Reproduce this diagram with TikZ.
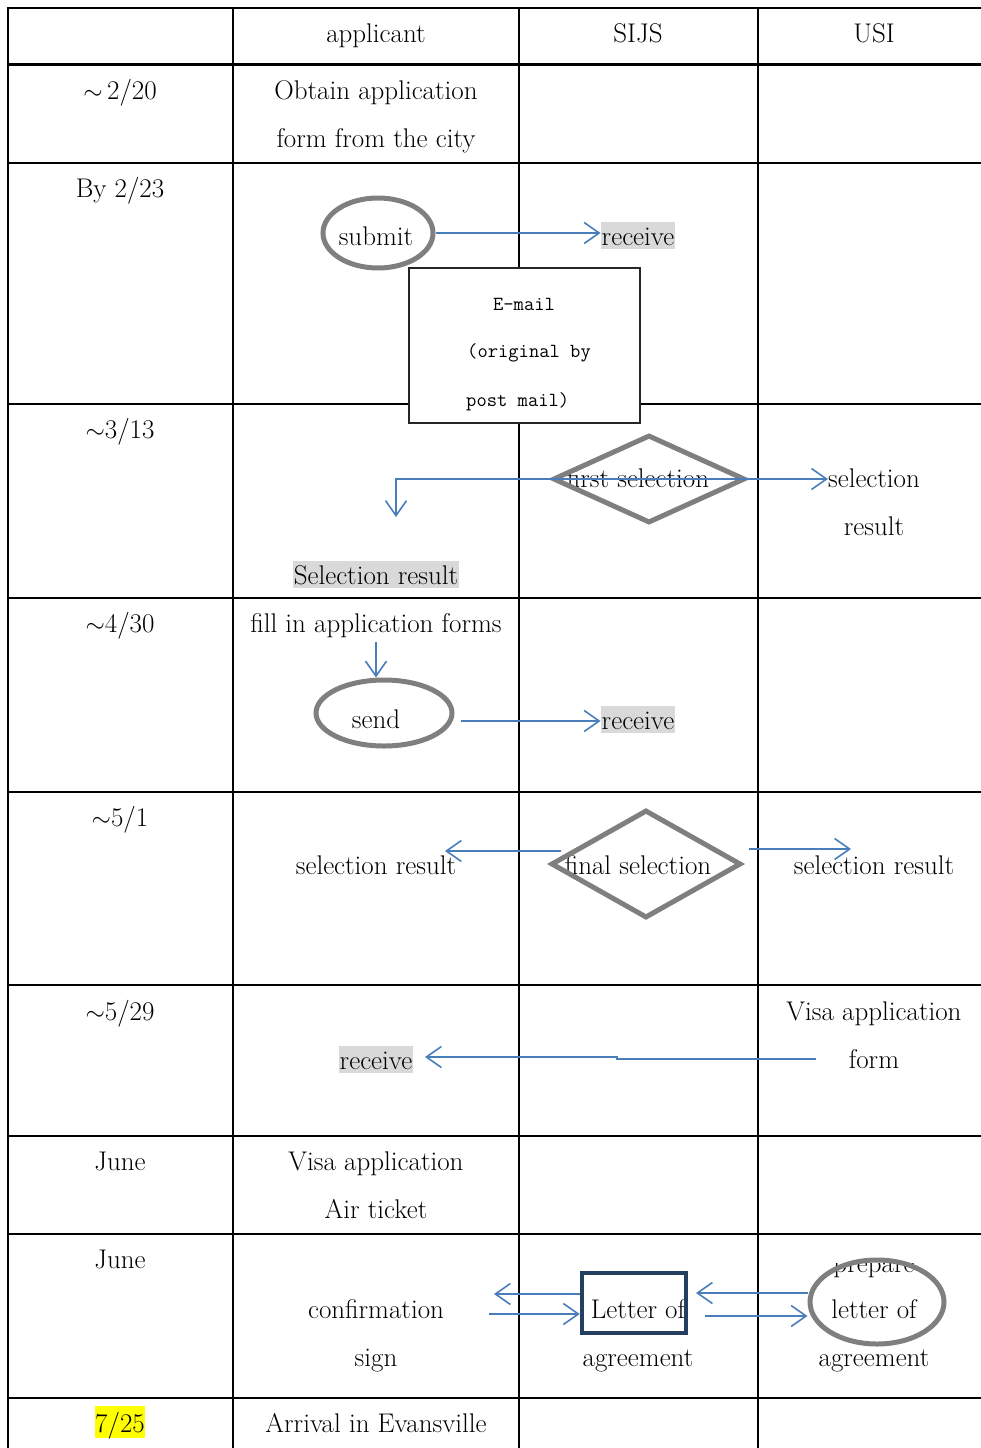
\documentclass[tikz,border=0pt]{standalone}
\usepackage{fontspec}
\usetikzlibrary{arrows.meta,shapes.geometric}
\definecolor{flowblue}{HTML}{4A7EBB}
\definecolor{shapegray}{HTML}{7F7F7F}
\definecolor{hlgray}{HTML}{D9D9D9}
\definecolor{hlyellow}{HTML}{FFFF00}
\definecolor{navybox}{HTML}{243F60}
\begin{document}
\begin{tikzpicture}[x=1pt,y=-1pt,
  gridline/.style={line width=2.4pt,line cap=rect},
  txt/.style={font=\fontsize{27}{31}\selectfont, anchor=base, inner sep=0pt},
  mono/.style={font=\ttfamily\fontsize{20}{23}\selectfont, anchor=base, inner sep=0pt},
  hl/.style={txt, fill=hlgray, inner xsep=1pt, inner ysep=1.5pt, text height=22pt, text depth=2pt},
  oval/.style={ellipse, draw=shapegray, line width=5pt, inner sep=0pt},
  dia/.style={diamond, draw=shapegray, line width=5pt, inner sep=0pt},
  flow/.style={draw=flowblue, line width=1.6pt, -{Straight Barb[length=15pt,width=21pt]}}]
\useasboundingbox (0,0) rectangle (980,1448);
% grid
\foreach \y in {8,64.5,163,404,598,792,985,1136,1234,1398}
  \draw[gridline] (8,\y) -- (982,\y);
\foreach \x in {8,233,519,758}
  \draw[gridline] (\x,8) -- (\x,1450);
% header
\node[txt] (hApp) at (376,42) {applicant};
\node[txt] (hSIJS) at (638,42) {SIJS};
\node[txt] (hUSI) at (874,42) {USI};
% row 1
\node[txt] (d1) at (120,99) {$\sim$\,2/20};
\node[txt] (obtainA) at (376,99) {Obtain application};
\node[txt] (obtainB) at (376,147) {form from the city};
% row 2
\node[txt] (d2) at (120,197) {By 2/23};
\node[oval, minimum width=110, minimum height=70] (submitShape) at (378,233) {};
\node[txt] (submitT) at (376,245) {submit};
\node[hl] (recvA) at (638,245) {receive};
\draw[flow] (submitShape.east) -- (submitShape.east -| recvA.west);
\node[draw=black!85, line width=1.3pt, fill=white, minimum width=231, minimum height=155, inner sep=0pt] (mailBox) at (524.5,345.5) {};
\node[mono] (mailA) at (524,310) {E-mail};
\node[mono, anchor=base west] (mailB) at (467,357) {(original by};
\node[mono, anchor=base west] (mailC) at (466,406) {post mail)};
% row 3
\node[txt] (d3) at (120,438) {$\sim$3/13};
\node[txt] (selAT) at (638,487) {first selection};
\node[dia, minimum width=192, minimum height=88] (selA) at (649,479) {};
\node[txt] (usiSelA) at (874,487) {selection};
\node[txt] (usiSelB) at (874,535) {result};
\node[hl] (appSelA) at (376,584) {Selection result};
\coordinate (turnA) at (396,479);
\coordinate (downA) at (396,517);
\draw[flow] (selA.center) -- (selA.center -| usiSelA.west);
\draw[flow] (selA.center) -- (turnA) -- (downA);
% row 4
\node[txt] (d4) at (120,632) {$\sim$4/30};
\node[txt] (fillT) at (376,632) {fill in application forms};
\node[oval, minimum width=136, minimum height=66] (sendShape) at (384,713) {};
\node[txt] (sendT) at (376,728) {send};
\draw[flow] ([yshift=-5pt]fillT.south) -- (fillT.south |- sendShape.north);
\node[hl] (recvB) at (638,729) {receive};
\coordinate (sendOut) at (461,721);
\draw[flow] (sendOut) -- (sendOut -| recvB.west);
% row 5
\node[txt] (d5) at (120,826) {$\sim$5/1};
\node[txt] (selBT) at (638,874) {final selection};
\node[dia, minimum width=190, minimum height=108] (selB) at (646,864) {};
\node[txt] (appSelB) at (376,874) {selection result};
\node[txt] (usiSelC) at (874,874) {selection result};
\coordinate (selBL) at (561,851);
\coordinate (selBLend) at (445,851);
\coordinate (selBR) at (749,849);
\coordinate (selBRend) at (851,849);
\draw[flow] (selBL) -- (selBLend);
\draw[flow] (selBR) -- (selBRend);
% row 6
\node[txt] (d6) at (120,1020) {$\sim$5/29};
\node[txt] (visaA) at (874,1020) {Visa application};
\node[txt] (visaB) at (874,1068) {form};
\node[hl] (recvC) at (376,1069) {receive};
\coordinate (visaOut) at (816,1059);
\coordinate (recvIn) at (425,1057);
\draw[flow] (visaOut) -- (617,1059) -- (617,1057) -- (recvIn);
% row 7
\node[txt] (d7) at (120,1170) {June};
\node[txt] (visaApp) at (376,1170) {Visa application};
\node[txt] (airT) at (376,1218) {Air ticket};
% row 8
\node[txt] (d8) at (120,1268) {June};
\node[txt] (confT) at (376,1318) {confirmation};
\node[txt] (signT) at (376,1366) {sign};
\node[txt] (letA) at (638,1318) {Letter of};
\node[draw=navybox, line width=4.5pt, minimum width=104, minimum height=60, inner sep=0pt] (letterBox) at (634,1303) {};
\node[txt] (letB) at (638,1366) {agreement};
\begin{scope}
  \clip (760,1263) rectangle (980,1300);
  \node[txt] (prepT) at (874,1272) {prepare};
\end{scope}
\node[txt] (usiLet) at (874,1318) {letter of};
\node[txt] (usiAgr) at (874,1366) {agreement};
\node[oval, minimum width=134, minimum height=84] (prepShape) at (877,1302) {};
\coordinate (aOneEnd) at (494,1294);
\coordinate (aTwoStart) at (489,1314);
\coordinate (aThreeEnd) at (696,1293);
\coordinate (aFourStart) at (705,1316);
\draw[flow] (letterBox.west |- aOneEnd) -- (aOneEnd);
\draw[flow] (aTwoStart) -- (aTwoStart -| letterBox.west);
\draw[flow] (prepShape.west |- aThreeEnd) -- (aThreeEnd);
\draw[flow] (aFourStart) -- (aFourStart -| prepShape.west);
% row 9
\node[txt, fill=hlyellow, text height=25pt, text depth=5pt, inner xsep=0pt, inner ysep=1pt] (d9) at (120,1432) {7/25};
\node[txt] (arrT) at (376,1432) {Arrival in Evansville};
\end{tikzpicture}
\end{document}
